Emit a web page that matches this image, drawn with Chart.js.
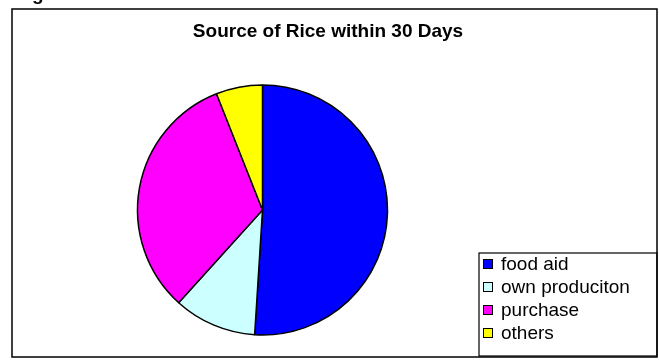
<!DOCTYPE html>
<html>
<head>
<meta charset="utf-8">
<title>Source of Rice within 30 Days</title>
<script src="https://cdn.jsdelivr.net/npm/chart.js@4/dist/chart.umd.min.js"></script>
<style>
  html, body { margin: 0; padding: 0; background: #fff; }
  canvas { display: block; }
</style>
</head>
<body>
<canvas id="graficaArroz" width="659" height="364"></canvas>
<script>
// datos del grafico
const categorias = ['food aid', 'own produciton', 'purchase', 'others'];
const porcentajes = [51.0, 10.7, 32.3, 6.0];
const colores = ['#0000ff', '#ccffff', '#ff00ff', '#ffff00'];
const titulo = 'Source of Rice within 30 Days';

// marco, titulo y leyenda al estilo de Excel
const marcoExcel = {
  id: 'marcoExcel',
  beforeDraw(chart) {
    const ctx = chart.ctx;
    ctx.save();
    ctx.fillStyle = '#fff';
    ctx.fillRect(0, 0, chart.width, chart.height);
    // resto del texto de arriba (cortado)
    ctx.fillStyle = '#000';
    ctx.font = 'bold 19px "Liberation Sans", Arial, sans-serif';
    ctx.textBaseline = 'alphabetic';
    ctx.fillText('g', 32, 0);
    ctx.strokeStyle = '#000';
    ctx.lineWidth = 1.5;
    ctx.strokeRect(12, 9, 645, 348);
    ctx.restore();
  },
  afterDraw(chart) {
    const ctx = chart.ctx;
    ctx.save();
    ctx.fillStyle = '#000';
    ctx.font = 'bold 19px "Liberation Sans", Arial, sans-serif';
    ctx.textAlign = 'center';
    ctx.textBaseline = 'middle';
    ctx.fillText(titulo, 328, 32);

    // caja de la leyenda
    const x0 = 479, y0 = 253, x1 = 657, y1 = 356;
    ctx.strokeStyle = '#000';
    ctx.lineWidth = 1.2;
    ctx.strokeRect(x0, y0, x1 - x0, y1 - y0);

    ctx.font = '19px "Liberation Sans", Arial, sans-serif';
    ctx.textAlign = 'left';
    const colDataset = chart.data.datasets[0].backgroundColor;
    chart.data.labels.forEach((etiqueta, i) => {
      const yc = 264 + i * 23;
      ctx.fillStyle = colDataset[i];
      ctx.fillRect(483, yc - 5, 10, 10);
      ctx.lineWidth = 1;
      ctx.strokeRect(483.5, yc - 4.5, 9, 9);
      ctx.fillStyle = '#000';
      ctx.fillText(etiqueta, 501, yc + 1);
    });
    ctx.restore();
  }
};

const ctx = document.getElementById('graficaArroz').getContext('2d');
new Chart(ctx, {
  type: 'pie',
  data: {
    labels: categorias,
    datasets: [{
      data: porcentajes,
      backgroundColor: colores,
      borderColor: '#000',
      borderWidth: 1.5
    }]
  },
  options: {
    responsive: false,
    animation: false,
    layout: {
      padding: { left: 136.75, top: 84.25, right: 270.75, bottom: 28.25 }
    },
    plugins: {
      legend: { display: false },
      title: { display: false },
      tooltip: { enabled: false }
    }
  },
  plugins: [marcoExcel]
});
</script>
</body>
</html>
